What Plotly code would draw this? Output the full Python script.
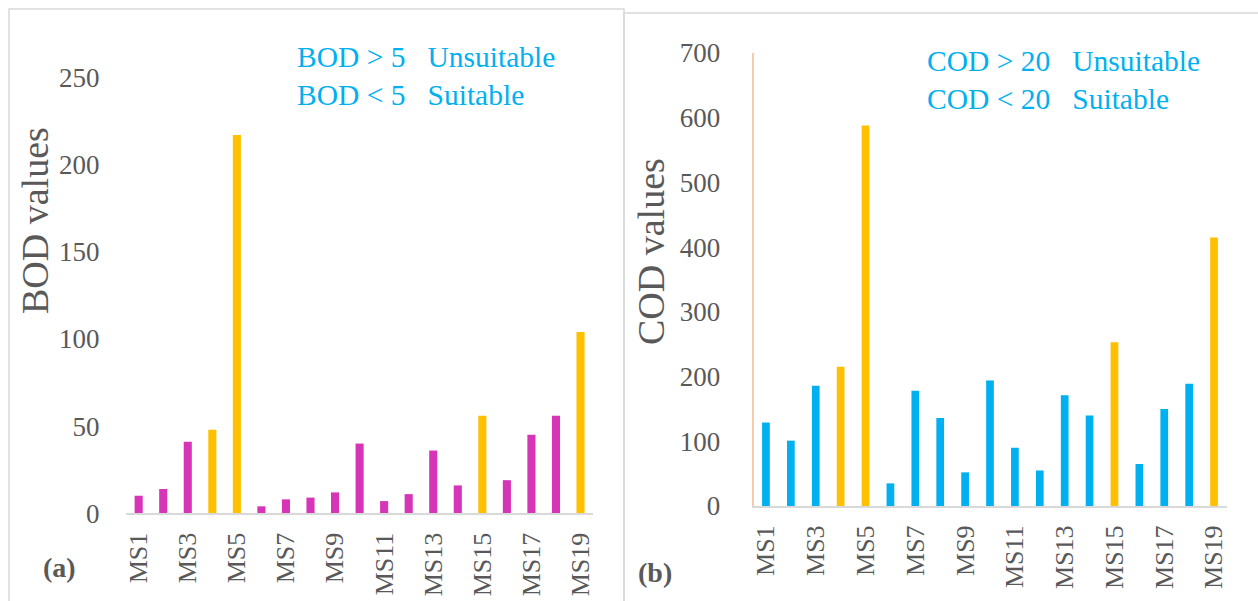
import plotly.graph_objects as go

# Sampling sites
sites = [f"MS{i}" for i in range(1, 20)]
site_ticks = sites[::2]

# Measured concentrations per site
bod_values = [10, 14, 41, 48, 217, 4, 8, 9, 12, 40, 7, 11, 36, 16, 56, 19, 45, 56, 104]
cod_values = [129, 101, 186, 215, 588, 35, 178, 136, 52, 194, 90, 55, 171, 140, 253, 65, 150, 189, 415]

# Sites drawn in the highlight colour
highlight_sites = ["MS4", "MS5", "MS15", "MS19"]

bod_note = ["BOD > 5   Unsuitable", "BOD < 5   Suitable"]
cod_note = ["COD > 20   Unsuitable", "COD < 20   Suitable"]

W, H = 1258, 601
SERIF = "Palatino Linotype, Book Antiqua, Palatino, Liberation Serif, serif"
GREY = "#595959"
HIGHLIGHT = "#FFC000"
BOD_COLOR = "#D535B6"
COD_COLOR = "#00B0F0"
FRAME = "#D9D9D9"


def px(x):
    return x / W


def py(y):
    return 1 - y / H


def colours(base):
    return [HIGHLIGHT if s in highlight_sites else base for s in sites]


def label(text, x, y, size, color=GREY, angle=0, xanchor="center"):
    return dict(text=text, x=px(x), y=py(y), xanchor=xanchor, yanchor="middle",
                textangle=angle, showarrow=False, xref="paper", yref="paper",
                font=dict(family=SERIF, size=size, color=color))


fig = go.Figure()
fig.add_trace(go.Bar(x=sites, y=bod_values, marker=dict(color=colours(BOD_COLOR), line=dict(width=0)),
                     width=0.33, xaxis="x", yaxis="y", showlegend=False))
fig.add_trace(go.Bar(x=sites, y=cod_values, marker=dict(color=colours(COD_COLOR), line=dict(width=0)),
                     width=0.31, xaxis="x2", yaxis="y2", showlegend=False))

tick_font = dict(family=SERIF, size=27, color=GREY)
xaxis_common = dict(
    type="category", categoryorder="array", categoryarray=sites,
    range=[-0.5, 18.5], tickmode="array", tickvals=site_ticks, ticktext=site_ticks,
    tickangle=-90, tickfont=dict(family=SERIF, size=26, color=GREY),
    showgrid=False, zeroline=False,
    showline=True, linecolor=FRAME, linewidth=2, ticks="", ticklabelstandoff=7,
    fixedrange=True, automargin=False,
)
yaxis_common = dict(
    showgrid=False, zeroline=False, ticks="", tickfont=tick_font,
    ticklabelstandoff=26, fixedrange=True, automargin=False,
)

annotations = [
    label("BOD values", 35, 221, 38, angle=-90),
    label("COD values", 651, 252, 38, angle=-90),
    label("<b>(a)</b>", 41, 567, 28, xanchor="left"),
    label("<b>(b)</b>", 636, 572, 28, xanchor="left"),
]
for t, yy in zip(bod_note, [57, 95]):
    annotations.append(label(t.replace(" ", "&nbsp;"), 295, yy, 29.5, color=COD_COLOR, xanchor="left"))
for t, yy in zip(cod_note, [61, 99]):
    annotations.append(label(t.replace(" ", "&nbsp;"), 925, yy, 29.5, color=COD_COLOR, xanchor="left"))

shapes = [
    dict(type="rect", xref="paper", yref="paper", x0=px(9), y0=py(9), x1=px(624), y1=py(640),
         line=dict(color=FRAME, width=1.5), fillcolor="rgba(0,0,0,0)", layer="below"),
    dict(type="rect", xref="paper", yref="paper", x0=px(624), y0=py(13), x1=px(1300), y1=py(640),
         line=dict(color=FRAME, width=1.5), fillcolor="rgba(0,0,0,0)", layer="below"),
]

fig.update_layout(
    width=W, height=H, margin=dict(l=0, r=0, t=0, b=0, autoexpand=False),
    paper_bgcolor="white", plot_bgcolor="rgba(0,0,0,0)",
    bargap=0.67,
    xaxis=dict(domain=[px(126.4), px(592.8)], anchor="y", **xaxis_common),
    yaxis=dict(domain=[py(513.3), py(77.5)], anchor="x", range=[0, 250],
               tickvals=[0, 50, 100, 150, 200, 250], showline=False, **yaxis_common),
    xaxis2=dict(domain=[px(753.5), px(1226.5)], anchor="y2", **xaxis_common),
    yaxis2=dict(domain=[py(506), py(53)], anchor="x2", range=[0, 700],
                tickvals=list(range(0, 701, 100)), showline=True, linecolor="#F8CBAD",
                linewidth=1.5, **yaxis_common),
    annotations=annotations,
    shapes=shapes,
)

fig.write_html("out.html")
